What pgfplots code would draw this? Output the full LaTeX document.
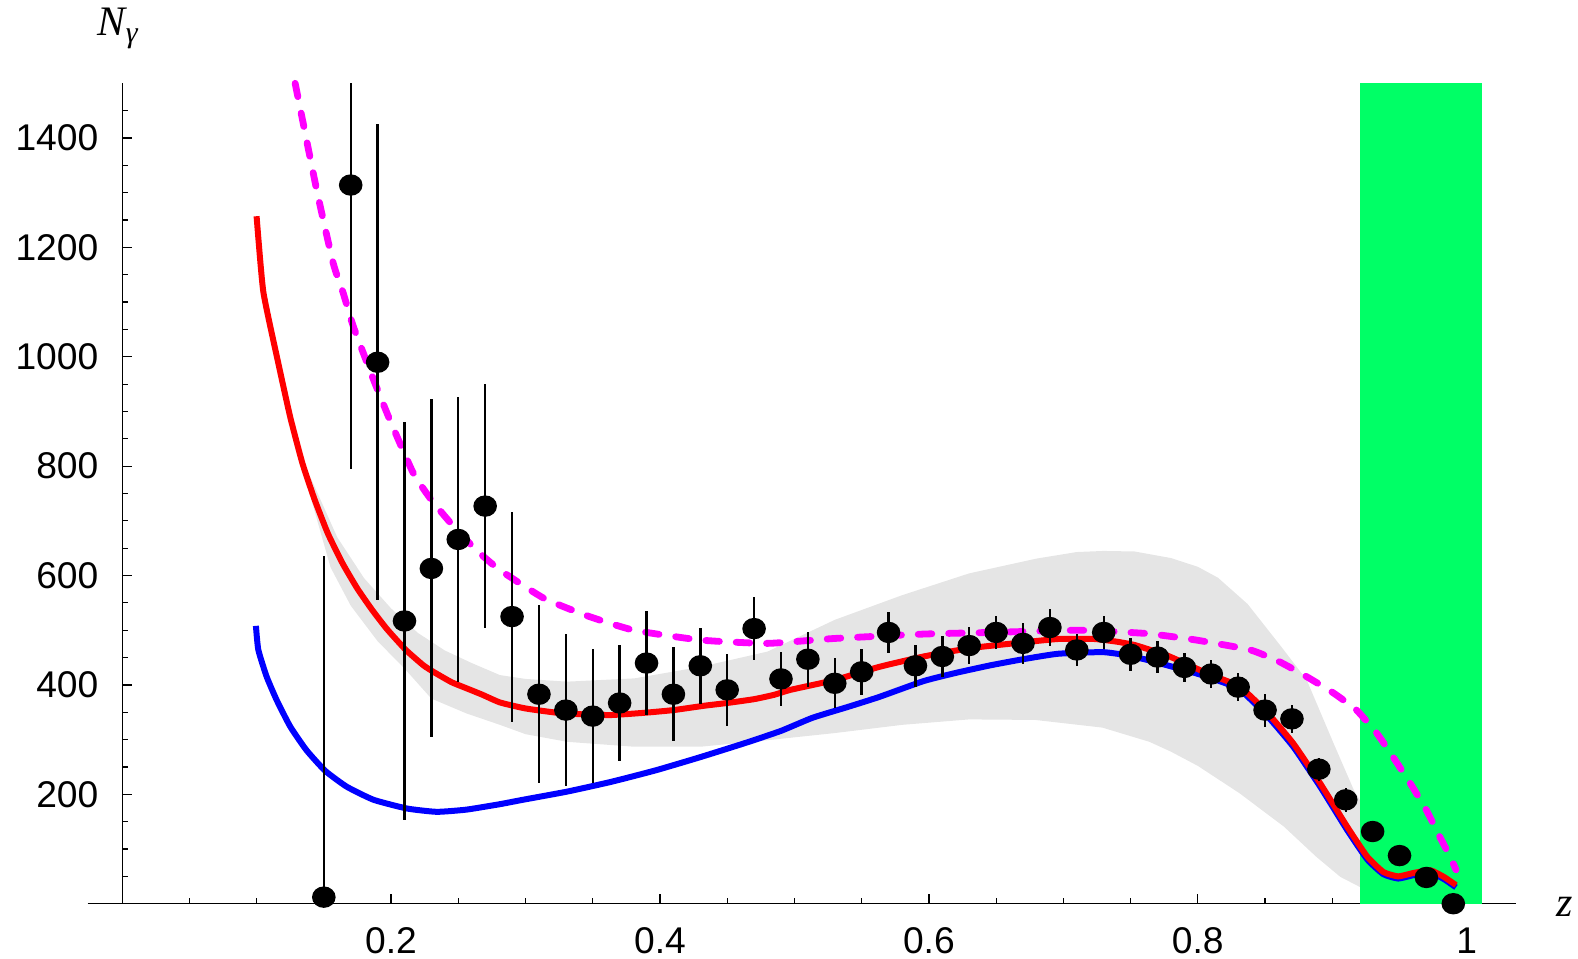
\documentclass[border=0pt]{standalone}
\usepackage{pgfplots}
\pgfplotsset{compat=1.18}
\usepackage{fontspec}
\setmainfont{Liberation Sans}
\newfontfamily\labelfont{Liberation Serif}
\definecolor{bandgreen}{RGB}{0,255,102}
\definecolor{bandgray}{RGB}{229,229,229}
\definecolor{pmag}{RGB}{255,0,255}
\definecolor{pred}{RGB}{255,0,0}
\definecolor{pblue}{RGB}{0,0,255}
\begin{document}
\begin{tikzpicture}
\begin{axis}[
  at={(0,0)}, anchor=south west,
  scale only axis, width=357pt, height=205.1pt,
  xmin=-0.0256, xmax=1.0364, ymin=0, ymax=1500,
  clip=false,
  axis x line=bottom, axis y line=middle,
  axis line style={-, black, line width=0.3pt},
  every inner x axis line/.append style={-},
  every inner y axis line/.append style={-},
  every outer x axis line/.append style={-},
  every outer y axis line/.append style={-},
  xtick={0.2,0.4,0.6,0.8,1}, xticklabels={0.2,0.4,0.6,0.8,1},
  minor xtick={0.05,0.1,0.15,0.25,0.3,0.35,0.45,0.5,0.55,0.65,0.7,0.75,0.85,0.9,0.95},
  ytick={200,400,600,800,1000,1200,1400}, yticklabels={200,400,600,800,1000,1200,1400},
  minor ytick={50,100,150,250,300,350,450,500,550,650,700,750,850,900,950,1050,1100,1150,1250,1300,1350,1450},
  tick align=inside,
  major tick length=2.4pt, minor tick length=1.5pt,
  tick style={black, line width=0.3pt},
  tick label style={font=\fontsize{9.3}{11}\selectfont},
  xticklabel style={anchor=north, inner sep=0pt, yshift=-5.75pt},
  yticklabel style={anchor=east, inner sep=0pt, xshift=-5.75pt},
  /pgf/number format/assume math mode=true,
]
% grey uncertainty band
\addplot[fill=bandgray, draw=none] coordinates {
(0.14,780) (0.16,670) (0.18,595) (0.20,540) (0.22,495) (0.24,463) (0.26,440) (0.281,418)
(0.30,411) (0.331,406) (0.381,412) (0.43,433) (0.48,461) (0.53,519) (0.58,564) (0.63,604)
(0.68,631) (0.71,643) (0.73,645) (0.753,644) (0.78,632) (0.80,616) (0.815,596) (0.837,548)
(0.862,470) (0.881,409) (0.901,293) (0.916,208) (0.93,150)
(0.93,20) (0.921,30) (0.906,49) (0.888,86) (0.864,141) (0.831,202) (0.80,252) (0.78,278)
(0.764,296) (0.729,322) (0.679,336) (0.63,337) (0.58,327) (0.53,312) (0.48,299) (0.43,287)
(0.381,287) (0.331,296) (0.30,310) (0.281,327) (0.256,348) (0.23,375) (0.21,430) (0.19,480)
(0.17,545) (0.155,615) (0.14,745)
} -- cycle;
% green region
\addplot[fill=bandgreen, draw=none] coordinates {(0.9206,0) (1.0111,0) (1.0111,1500) (0.9206,1500)} -- cycle;
% blue curve
\addplot[pblue, line width=1.5pt, smooth, tension=0.3] coordinates {
(0.0995,508) (0.1013,464) (0.1075,415) (0.115,372) (0.125,324) (0.137,281) (0.151,243) (0.167,214)
(0.187,190) (0.212,174) (0.234,168) (0.256,172) (0.281,182) (0.298,190) (0.331,205) (0.364,223)
(0.397,244) (0.43,268) (0.4636,294) (0.49,316) (0.5135,340) (0.54,360) (0.563,378) (0.596,407)
(0.62,422) (0.646,436) (0.67,447) (0.696,457) (0.729,460) (0.745,455) (0.762,446) (0.78,434)
(0.799,421) (0.815,408) (0.831,392) (0.851,345) (0.871,287) (0.891,214) (0.911,135) (0.926,81)
(0.938,54) (0.949,46) (0.96,52) (0.973,57) (0.983,45) (0.992,30)
};
% red curve
\addplot[pred, line width=1.5pt, smooth, tension=0.3] coordinates {
(0.100,1257) (0.105,1119) (0.116,990) (0.125,890) (0.134,806) (0.143,740) (0.153,677) (0.164,622)
(0.175,576) (0.186,537) (0.197,502) (0.211,464) (0.224,436) (0.2315,424) (0.245,405) (0.256,394)
(0.268,382) (0.281,368) (0.300,357) (0.324,349) (0.345,346) (0.364,345) (0.388,349) (0.41,354)
(0.433,362) (0.45,367) (0.470,374) (0.485,382) (0.497,391) (0.53,409) (0.563,433) (0.596,452)
(0.63,467) (0.663,476) (0.696,484) (0.723,484) (0.74,479) (0.753,473) (0.766,463) (0.779,452)
(0.799,430) (0.81,418) (0.831,397) (0.851,351) (0.871,293) (0.891,220) (0.911,141) (0.926,86)
(0.938,58) (0.949,50) (0.96,56) (0.973,61) (0.983,49) (0.992,34)
};
% magenta dashed curve
\addplot[pmag, line width=1.7pt, line cap=round, dash pattern=on 3.4pt off 4.2pt, smooth, tension=0.3] coordinates {
(0.1287,1500) (0.1447,1305) (0.157,1171) (0.1645,1116) (0.172,1055) (0.187,958) (0.1992,884)
(0.2166,787) (0.231,735) (0.25,680) (0.265,643) (0.281,610) (0.314,558) (0.3475,525) (0.3807,500)
(0.4305,482) (0.48,476) (0.53,485) (0.596,493) (0.646,496) (0.712,500) (0.762,494) (0.799,482)
(0.839,464) (0.861,442) (0.881,415) (0.901,385) (0.918,354) (0.933,312) (0.945,269) (0.958,220)
(0.970,171) (0.980,122) (0.9876,86) (0.992,62)
};
% data points
\addplot[only marks, mark=*, mark size=2.75pt, mark options={black, yscale=0.9},
  error bars/.cd, y dir=both, y explicit, error mark=none,
  error bar style={line width=0.6pt, black}] coordinates {
(0.15,12) += (0,623) -= (0,12)
(0.17,1314) += (0,186) -= (0,519)
(0.19,990) +- (0,435)
(0.21,517) +- (0,364)
(0.23,613) +- (0,309)
(0.25,666) +- (0,260)
(0.27,727) +- (0,223)
(0.29,525) +- (0,192)
(0.31,383) +- (0,163)
(0.33,354) +- (0,139)
(0.35,343) +- (0,122)
(0.37,367) +- (0,106)
(0.39,440) +- (0,95)
(0.41,383) +- (0,86)
(0.43,435) +- (0,70)
(0.45,391) +- (0,66)
(0.47,503) +- (0,58)
(0.49,411) +- (0,50)
(0.51,447) +- (0,50)
(0.53,403) +- (0,46)
(0.55,424) +- (0,42)
(0.57,496) +- (0,38)
(0.59,435) +- (0,38)
(0.61,452) +- (0,38)
(0.63,472) +- (0,34)
(0.65,496) +- (0,30)
(0.67,476) +- (0,37)
(0.69,505) +- (0,34)
(0.71,464) +- (0,30)
(0.73,496) +- (0,30)
(0.75,456) +- (0,30)
(0.77,451) +- (0,30)
(0.79,432) +- (0,27)
(0.81,420) +- (0,25)
(0.83,396) +- (0,25)
(0.85,354) +- (0,30)
(0.87,338) +- (0,26)
(0.89,246) +- (0,21)
(0.91,190) +- (0,22)
(0.93,132) +- (0,10)
(0.95,88) +- (0,8)
(0.97,48) +- (0,5)
(0.99,0) +- (0,0)
};
% axis labels
\node[anchor=base west, inner sep=0pt, font=\fontsize{10.5}{12}\selectfont\labelfont\itshape] at (axis cs:-0.0187,1588) {N\raisebox{-0.4ex}{\fontsize{7.5}{8}\selectfont γ}};
\node[anchor=base west, inner sep=0pt, font=\fontsize{10.5}{12}\selectfont\labelfont\itshape] at (axis cs:1.0664,-23.8) {z};
\end{axis}
\pgfresetboundingbox
\path[use as bounding box] (-21.925pt,-13.575pt) rectangle (372.575pt,225.925pt);
\end{tikzpicture}
\end{document}
